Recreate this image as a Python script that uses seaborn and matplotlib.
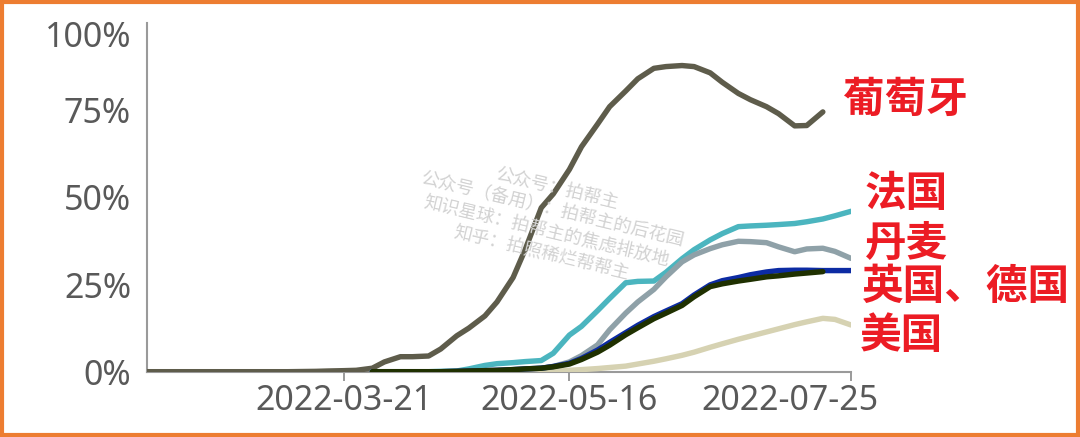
import numpy as np
import pandas as pd
import matplotlib
matplotlib.use('Agg')
import matplotlib.pyplot as plt
from matplotlib.ticker import PercentFormatter
from matplotlib.patches import Rectangle
from matplotlib.transforms import ScaledTranslation
import seaborn as sns

nan = np.nan

# ---------------- data (share of sequences, %) ----------------
dates = ['2022-01-31', '2022-02-07', '2022-02-14', '2022-02-21', '2022-02-28', '2022-03-07',
         '2022-03-14', '2022-03-17', '2022-03-21', '2022-03-24', '2022-03-28', '2022-03-31',
         '2022-04-04', '2022-04-07', '2022-04-11', '2022-04-14', '2022-04-18', '2022-04-21',
         '2022-04-25', '2022-04-28', '2022-05-02', '2022-05-05', '2022-05-09', '2022-05-12',
         '2022-05-16', '2022-05-19', '2022-05-23', '2022-05-26', '2022-05-30', '2022-06-02',
         '2022-06-06', '2022-06-09', '2022-06-13', '2022-06-16', '2022-06-20', '2022-06-23',
         '2022-06-27', '2022-06-30', '2022-07-04', '2022-07-07', '2022-07-11', '2022-07-14',
         '2022-07-18', '2022-07-21', '2022-07-25']

portugal = [0, 0, 0, 0, 0, 0,
            0.1, 0.2, 0.3, 0.4, 1.0, 2.8,
            4.3, 4.3, 4.5, 6.5, 10.3, 12.5,
            16, 20, 27, 35, 47, 51,
            58, 64.5, 71, 76, 80.5, 84,
            87, 87.5, 87.8, 87.5, 85.7, 83,
            79.8, 78, 76, 74, 70.5, 70.6,
            74.5, nan, nan]

france = [nan, nan, nan, nan, nan, nan,
          nan, nan, nan, nan, 0, 0,
          0, 0, 0, 0.1, 0.2, 0.8,
          1.8, 2.3, 2.6, 2.9, 3.2, 5.3,
          10.5, 13, 17.5, 21, 25.5, 25.9,
          26, 28.5, 32.4, 35, 37.8, 39.6,
          41.6, 41.8, 42, 42.2, 42.5, 43,
          43.8, 44.7, 46]

denmark = [nan, nan, nan, nan, nan, nan,
           nan, nan, nan, nan, 0, 0,
           0, 0, 0, 0, 0, 0,
           0, 0.2, 0.4, 0.6, 1.0, 1.5,
           2.8, 4.6, 7.7, 12, 16.8, 20,
           23.6, 27.2, 31.5, 33.5, 35.3, 36.4,
           37.4, 37.3, 37, 35.8, 34.4, 35.2,
           35.4, 34.5, 32.5]

usa = [nan, nan, nan, nan, nan, nan,
       nan, nan, nan, nan, 0, 0,
       0, 0, 0, 0, 0, 0,
       0, 0, 0, 0, 0.1, 0.2,
       0.4, 0.6, 0.9, 1.2, 1.6, 2.2,
       3.0, 3.7, 4.7, 5.6, 7.0, 8.0,
       9.3, 10.2, 11.4, 12.3, 13.5, 14.3,
       15.3, 15.0, 13.4]

uk = [nan, nan, nan, nan, nan, nan,
      nan, nan, nan, nan, 0, 0,
      0, 0, 0, 0, 0.1, 0.2,
      0.3, 0.4, 0.6, 0.8, 1.0, 1.5,
      2.4, 3.8, 6.2, 8.4, 11.2, 13.3,
      15.8, 17.4, 19.5, 22, 24.9, 26.1,
      27, 27.8, 28.6, 29, 29.1, 29.1,
      29, 29, 29]

germany = [nan, nan, nan, nan, nan, nan,
           nan, nan, nan, nan, 0, 0,
           0, 0, 0, 0, 0.1, 0.2,
           0.3, 0.4, 0.6, 0.8, 1.0, 1.4,
           2.2, 3.5, 5.6, 7.6, 10.6, 12.6,
           15.2, 16.8, 19, 21.5, 24.4, 25.2,
           26, 26.5, 27.2, 27.5, 28, 28.3,
           28.7, nan, nan]

countries = ['葡萄牙', '法国', '丹麦', '美国', '英国', '德国']
series = [portugal, france, denmark, usa, uk, germany]
colors = ['#5e5c4b', '#4bb5bf', '#8fa1a8', '#d6d2b2', '#0c2ba3', '#1f3000']

y_ticks = [0, 25, 50, 75, 100]
x_ticks = ['2022-03-21', '2022-05-16', '2022-07-25']

labels = ['葡萄牙', '法国', '丹麦', '英国、德国', '美国']
label_pos_px = [(843, 100), (865, 194), (865, 244), (862, 287), (860, 336)]

watermark = '公众号：拍帮主\n公众号（备用）：拍帮主的后花园\n知识星球：拍帮主的焦虑排放地\n知乎：拍照稀烂帮帮主'

# ---------------- build frame ----------------
wide = pd.DataFrame({'date': pd.to_datetime(dates)})
for name, vals in zip(countries, series):
    wide[name] = vals
df = wide.melt(id_vars='date', var_name='country', value_name='value').dropna()

# ---------------- plotting ----------------
sns.set_theme(style='white')
plt.rcParams['font.family'] = ['Noto Sans', 'Noto Sans CJK SC', 'DejaVu Sans']

W, H = 1080, 437
fig = plt.figure(figsize=(W / 100, H / 100), dpi=100)
fig.patch.set_facecolor('white')
x0, x1, ytop, ybot = 147, 851, 23, 371.7
ax = fig.add_axes([x0 / W, 1 - ybot / H, (x1 - x0) / W, (ybot - ytop) / H])

sns.lineplot(data=df, x='date', y='value', hue='country', hue_order=countries,
             palette=dict(zip(countries, colors)), linewidth=3.9, legend=False,
             estimator=None, ax=ax)
for ln in ax.lines:
    ln.set_solid_capstyle('round')
    ln.set_solid_joinstyle('round')

ax.set_xlim(pd.Timestamp('2022-01-31'), pd.Timestamp('2022-07-25'))
ax.set_ylim(0, 100)
ax.set_xlabel('')
ax.set_ylabel('')
ax.set_yticks(y_ticks)
ax.yaxis.set_major_formatter(PercentFormatter(100, decimals=0))
ax.set_xticks(pd.to_datetime(x_ticks))
ax.set_xticklabels(x_ticks)

for s in ['top', 'right']:
    ax.spines[s].set_visible(False)
for s in ['left', 'bottom']:
    ax.spines[s].set_color('#9a9a9a')
    ax.spines[s].set_linewidth(1.5)
    ax.spines[s].set_zorder(1.5)

ax.tick_params(axis='both', which='major', direction='out', length=6.5, width=1.4,
               color='#9a9a9a', labelcolor='#595959', labelsize=24.5)
ax.tick_params(axis='y', pad=5)
ax.tick_params(axis='x', pad=2, bottom=True)
ax.grid(False)

# shift 100% label down and last date label left (as in reference)
ylabs = ax.get_yticklabels()
ylabs[-1].set_transform(ylabs[-1].get_transform() + ScaledTranslation(0, -11 / 100, fig.dpi_scale_trans))
xlabs = ax.get_xticklabels()
xlabs[-1].set_transform(xlabs[-1].get_transform() + ScaledTranslation(-61 / 100, 0, fig.dpi_scale_trans))

# country labels
for txt, (px, py) in zip(labels, label_pos_px):
    fig.text(px / W, 1 - py / H, txt, color='#ec1c24', fontsize=30, fontweight='bold',
             family=['Noto Sans CJK SC', 'DejaVu Sans'], ha='left', va='center')

# watermark
fig.text(549 / W, 1 - 221 / H, watermark, color='#d2d2d2', fontsize=13,
         family=['Noto Sans CJK SC', 'DejaVu Sans'], ha='center', va='center',
         multialignment='center', rotation=-13.5, rotation_mode='anchor',
         linespacing=1.3, zorder=0.5)

# orange frame
fig.patches.append(Rectangle((2 / W, 2 / H), (W - 4) / W, (H - 4) / H,
                             transform=fig.transFigure, fill=False,
                             edgecolor='#ed7d31', linewidth=3, zorder=10))

fig.savefig('out.png', dpi=100)
